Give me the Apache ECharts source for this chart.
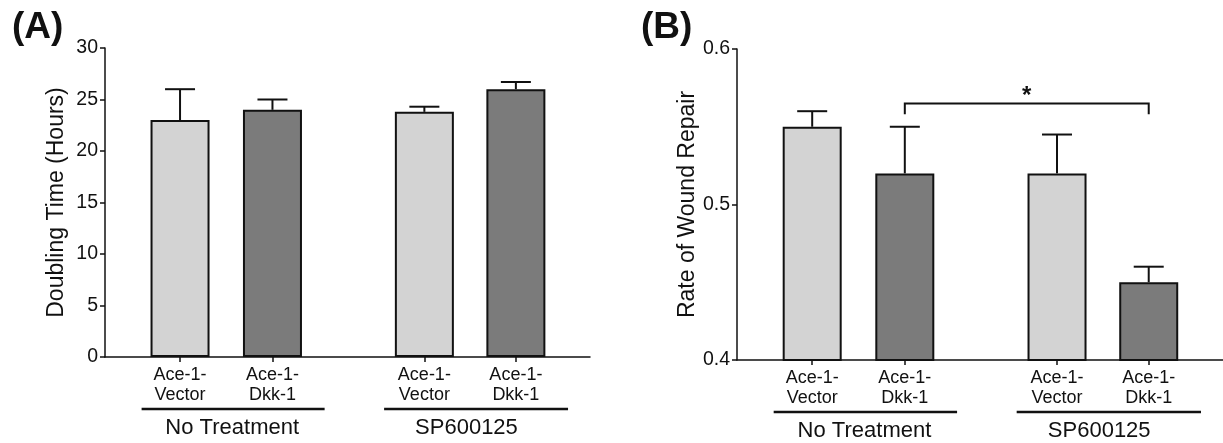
<!DOCTYPE html>
<html>
<head>
<meta charset="utf-8">
<script src="https://cdn.jsdelivr.net/npm/echarts@6/dist/echarts.min.js"></script>
<style>
  html, body { margin: 0; padding: 0; background: #fff; }
  #container { width: 1223px; height: 443px; }
</style>
</head>
<body>
<div id="container"></div>
<script>
// bar labels + where they sit on the x axis (value axis so the group gap can be wider)
var cats = ['Ace-1-\nVector', 'Ace-1-\nDkk-1', 'Ace-1-\nVector', 'Ace-1-\nDkk-1'];
var xPos = [0.82, 1.83, 3.49, 4.49];

// (A) doubling time, hours
var doublingMean = [23, 24, 23.8, 26];
var doublingErr = [3, 1, 0.5, 0.7];

// (B) rate of wound repair
var woundMean = [0.55, 0.52, 0.52, 0.45];
var woundErr = [0.01, 0.03, 0.025, 0.01];

// treatment groups under the x labels
var groupNames = ['No Treatment', 'SP600125'];
var groupStart = [0.4, 3.05];
var groupEnd = [2.4, 5.06];
var groupLabelX = [1.39, 3.95];

// significance bracket in (B): between bar 2 and bar 4
var sigBars = [1, 3];
var sigTop = 0.565;
var sigDrop = 0.558;
var sigText = '*';

var FONT = '"Liberation Sans", Arial, Helvetica, sans-serif';
var INK = '#111';
var shades = ['#d3d3d3', '#7b7b7b', '#d3d3d3', '#7b7b7b'];

var dom = document.getElementById('container');
var myChart = echarts.init(dom, null, { renderer: 'canvas' });

function barData(vals) {
  return vals.map(function (v, i) {
    return { value: [xPos[i], v], itemStyle: { color: shades[i] } };
  });
}
function errData(m, e) {
  return m.map(function (v, i) { return [xPos[i], v, e[i]]; });
}
function groupData() {
  return groupNames.map(function (n, i) { return [groupStart[i], groupEnd[i], groupLabelX[i], i]; });
}

function errItem(params, api) {
  var x = api.value(0), m = api.value(1), e = api.value(2);
  var b = api.coord([x, m]);
  var t = api.coord([x, m + e]);
  var st = { stroke: INK, lineWidth: 2 };
  return {
    type: 'group',
    children: [
      { type: 'line', shape: { x1: b[0], y1: b[1], x2: t[0], y2: t[1] }, style: st },
      { type: 'line', shape: { x1: t[0] - 15, y1: t[1], x2: t[0] + 15, y2: t[1] }, style: st }
    ]
  };
}

function groupItem(params, api) {
  var cs = params.coordSys;
  var bottom = cs.y + cs.height;
  var x1 = api.coord([api.value(0), 0])[0];
  var x2 = api.coord([api.value(1), 0])[0];
  var xl = api.coord([api.value(2), 0])[0];
  var name = groupNames[api.value(3)];
  return {
    type: 'group',
    children: [
      { type: 'line', shape: { x1: x1, y1: bottom + 52, x2: x2, y2: bottom + 52 },
        style: { stroke: INK, lineWidth: 2.5 } },
      { type: 'text', x: xl, y: bottom + 71,
        style: { text: name, fill: INK, font: '22px ' + FONT, align: 'center', verticalAlign: 'middle' } }
    ]
  };
}

function bracketItem(params, api) {
  var x1 = api.value(0), x2 = api.value(1), yt = api.value(2), yd = api.value(3);
  var a = api.coord([x1, yd]), b = api.coord([x1, yt]), c = api.coord([x2, yt]), d = api.coord([x2, yd]);
  return {
    type: 'group',
    children: [
      { type: 'polyline', shape: { points: [a, b, c, d] },
        style: { stroke: INK, lineWidth: 2, fill: null } },
      { type: 'text', x: (b[0] + c[0]) / 2, y: b[1] - 7,
        style: { text: sigText, fill: INK, font: 'bold 24px ' + FONT, align: 'center', verticalAlign: 'middle' } }
    ]
  };
}

function xAxisCfg(idx) {
  return {
    type: 'value', gridIndex: idx, min: 0, max: 5.3,
    splitLine: { show: false },
    axisLine: { show: true, onZero: false, lineStyle: { color: INK, width: 1.5 } },
    axisTick: { show: true, customValues: xPos, length: 5, lineStyle: { color: INK, width: 1.5 } },
    axisLabel: {
      customValues: xPos, margin: 8, color: INK, fontFamily: FONT, fontSize: 18, lineHeight: 20,
      formatter: function (v) {
        for (var i = 0; i < xPos.length; i++) if (Math.abs(xPos[i] - v) < 1e-6) return cats[i];
        return '';
      }
    }
  };
}

function yAxisCfg(idx, name, min, max, step) {
  return {
    type: 'value', gridIndex: idx, min: min, max: max, interval: step,
    name: name, nameLocation: 'middle', nameGap: 37,
    nameTextStyle: { color: INK, fontFamily: FONT, fontSize: 23 },
    splitLine: { show: false },
    axisLine: { show: true, lineStyle: { color: INK, width: 1.5 } },
    axisTick: { show: true, length: 5, lineStyle: { color: INK, width: 1.5 } },
    axisLabel: { color: INK, fontFamily: FONT, fontSize: 19.5, margin: 7 }
  };
}

var option = {
  animation: false,
  backgroundColor: '#fff',
  title: [
    { text: '(A)', left: 12, top: 9, padding: 0,
      textStyle: { fontFamily: FONT, fontSize: 37, fontWeight: 'bold', color: INK } },
    { text: '(B)', left: 641, top: 9, padding: 0,
      textStyle: { fontFamily: FONT, fontSize: 37, fontWeight: 'bold', color: INK } }
  ],
  grid: [
    { left: 105, top: 48, width: 485, height: 309 },
    { left: 737, top: 49, width: 486, height: 311 }
  ],
  xAxis: [xAxisCfg(0), xAxisCfg(1)],
  yAxis: [
    yAxisCfg(0, 'Doubling Time (Hours)', 0, 30, 5),
    yAxisCfg(1, 'Rate of Wound Repair', 0.4, 0.6, 0.1)
  ],
  series: [
    { type: 'bar', xAxisIndex: 0, yAxisIndex: 0, barWidth: 59,
      itemStyle: { borderColor: INK, borderWidth: 2 }, data: barData(doublingMean) },
    { type: 'custom', xAxisIndex: 0, yAxisIndex: 0, renderItem: errItem,
      data: errData(doublingMean, doublingErr), z: 3 },
    { type: 'custom', xAxisIndex: 0, yAxisIndex: 0, renderItem: groupItem, clip: false,
      data: groupData(), silent: true },

    { type: 'bar', xAxisIndex: 1, yAxisIndex: 1, barWidth: 59,
      itemStyle: { borderColor: INK, borderWidth: 2 }, data: barData(woundMean) },
    { type: 'custom', xAxisIndex: 1, yAxisIndex: 1, renderItem: errItem,
      data: errData(woundMean, woundErr), z: 3 },
    { type: 'custom', xAxisIndex: 1, yAxisIndex: 1, renderItem: groupItem, clip: false,
      data: groupData(), silent: true },
    { type: 'custom', xAxisIndex: 1, yAxisIndex: 1, renderItem: bracketItem, clip: false,
      data: [[xPos[sigBars[0]], xPos[sigBars[1]], sigTop, sigDrop]], silent: true }
  ]
};

myChart.setOption(option);
</script>
</body>
</html>
